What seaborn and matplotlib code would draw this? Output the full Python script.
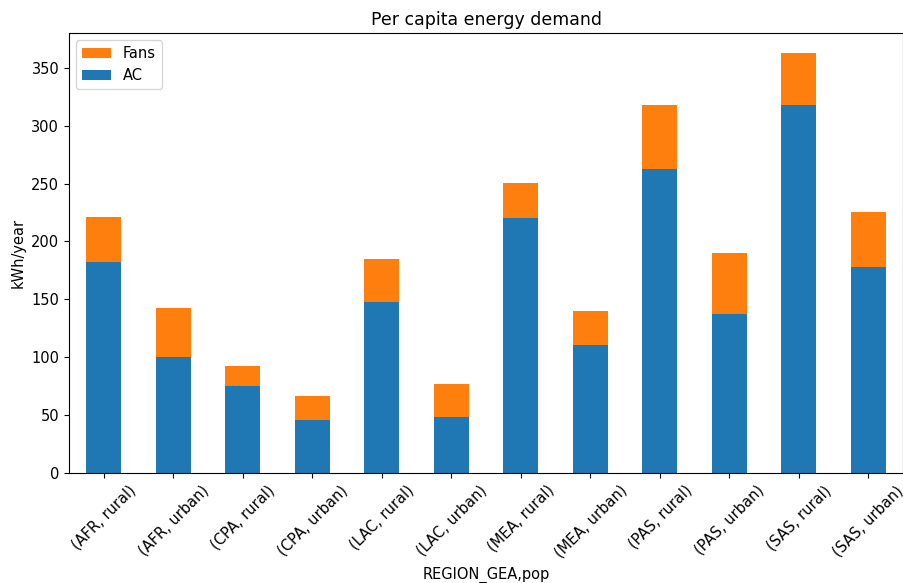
import pandas as pd
import matplotlib
matplotlib.use('Agg')
import matplotlib.pyplot as plt
import seaborn as sns

# Data
regions = ['AFR', 'AFR', 'CPA', 'CPA', 'LAC', 'LAC', 'MEA', 'MEA', 'PAS', 'PAS', 'SAS', 'SAS']
pops = ['rural', 'urban'] * 6
ac = [182.4, 100.0, 75.5, 46.1, 148.1, 48.7, 220.1, 110.6, 262.2, 137.4, 317.5, 177.5]
fans = [39.1, 42.6, 17.3, 20.7, 36.6, 27.9, 30.5, 29.4, 55.9, 52.2, 45.2, 48.1]

df = pd.DataFrame({'REGION_GEA': regions, 'pop': pops, 'AC': ac, 'Fans': fans})
df['label'] = '(' + df['REGION_GEA'] + ', ' + df['pop'] + ')'
df['total'] = df['AC'] + df['Fans']

blue = '#1f77b4'
orange = '#ff7f0e'

fig, ax = plt.subplots(figsize=(9.04, 5.83), dpi=100)

# stacked: draw totals in orange, then AC in blue over them
sns.barplot(data=df, x='label', y='total', color=orange, width=0.5,
            saturation=1, linewidth=0, label='Fans', ax=ax)
sns.barplot(data=df, x='label', y='AC', color=blue, width=0.5,
            saturation=1, linewidth=0, label='AC', ax=ax)

ax.set_xlim(-0.5, len(df) - 0.5)
ax.set_ylim(0, 380)
ax.set_yticks(range(0, 351, 50))
ax.set_title('Per capita energy demand', fontsize=12.5)
ax.set_xlabel('REGION_GEA,pop', fontsize=10.5)
ax.set_ylabel('kWh/year', fontsize=10.5)
ax.tick_params(axis='both', labelsize=10.5)
plt.setp(ax.get_xticklabels(), rotation=45, ha='center')
ax.legend(loc='upper left', fontsize=10.5)

plt.subplots_adjust(left=0.0763, right=0.999, top=0.9434, bottom=0.1887)
plt.savefig('out.png', dpi=100)
plt.close()
